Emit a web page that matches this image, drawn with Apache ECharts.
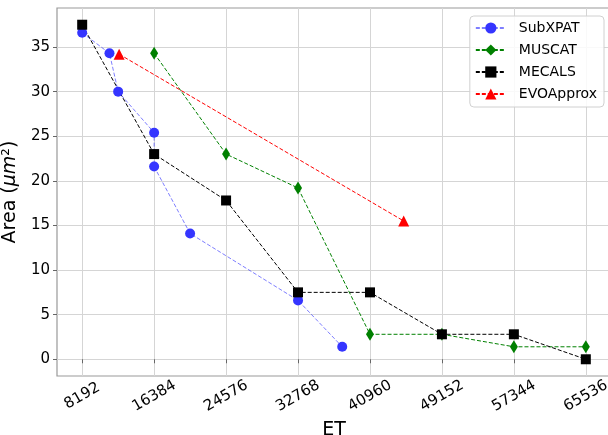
<!DOCTYPE html>
<html>
<head>
<meta charset="utf-8">
<script src="https://cdn.jsdelivr.net/npm/echarts@6/dist/echarts.min.js"></script>
<style>
html,body{margin:0;padding:0;background:#fff;}
#chart{width:608px;height:435px;}
</style>
</head>
<body>
<div id="chart"></div>
<script>
// ---- data ----
const xTicks = [8192, 16384, 24576, 32768, 40960, 49152, 57344, 65536];
const yTicks = [0, 5, 10, 15, 20, 25, 30, 35];

const subxpatX = [8192, 11300, 12288, 16384, 16384, 20480, 32768, 37800];
const subxpatY = [36.6, 34.3, 30.0, 25.4, 21.6, 14.1, 6.6, 1.4];

const muscatX = [16384, 24576, 32768, 40960, 49152, 57344, 65536];
const muscatY = [34.3, 23.0, 19.2, 2.8, 2.8, 1.4, 1.4];

const mecalsX = [8192, 16384, 24576, 32768, 40960, 49152, 57344, 65536];
const mecalsY = [37.5, 23.0, 17.8, 7.5, 7.5, 2.8, 2.8, 0];

const evoX = [12400, 44800];
const evoY = [34.2, 15.5];

const zip = (xs, ys) => xs.map((x, i) => [x, ys[i]]);

const FONT = 'DejaVu Sans';
const chart = echarts.init(document.getElementById('chart'), null, {renderer: 'canvas'});

function mkSeries(name, xs, ys, symbol, size, lineColor, markColor) {
  return {
    name: name,
    type: 'line',
    data: zip(xs, ys),
    symbol: symbol,
    symbolSize: size,
    showAllSymbol: true,
    lineStyle: {color: lineColor, width: 1, type: [4, 2]},
    itemStyle: {color: markColor},
    emphasis: {disabled: true},
    z: 3
  };
}

const option = {
  animation: false,
  textStyle: {fontFamily: FONT},
  grid: {
    left: 57, top: 8, width: 554, height: 368,
    outerBoundsMode: 'none',
    show: true, borderColor: '#999', borderWidth: 1.2, containLabel: false
  },
  legend: {
    orient: 'vertical',
    right: 4, top: 16,
    itemWidth: 30, itemHeight: 14, itemGap: 8,
    padding: [5, 7, 6, 5],
    backgroundColor: 'rgba(255,255,255,0.85)',
    borderColor: '#d0d0d0', borderWidth: 1, borderRadius: 4,
    textStyle: {fontFamily: FONT, fontSize: 14, color: '#000', padding: [0, 0, 0, 8]},
    data: ['SubXPAT', 'MUSCAT', 'MECALS', 'EVOApprox']
  },
  xAxis: {
    type: 'value',
    min: 5324.8, max: 68403.2,
    name: 'ET',
    nameLocation: 'middle',
    nameGap: 42,
    nameTextStyle: {fontFamily: FONT, fontSize: 19, color: '#000'},
    axisLine: {show: false},
    axisTick: {show: true, length: 4, lineStyle: {color: '#666'}, customValues: xTicks},
    axisLabel: {
      customValues: xTicks, rotate: 30, fontSize: 15, color: '#000', fontFamily: FONT,
      margin: 20, align: 'center', verticalAlign: 'middle',
      formatter: v => String(v)
    },
    splitLine: {show: true, lineStyle: {color: '#d5d5d5', width: 1}}
  },
  yAxis: {
    type: 'value',
    min: -1.875, max: 39.375,
    name: 'Area ({i|μm}²)',
    nameLocation: 'middle',
    nameRotate: 90,
    nameGap: 19,
    nameTextStyle: {
      fontFamily: FONT, fontSize: 19, color: '#000',
      rich: {i: {fontFamily: FONT, fontSize: 19, fontStyle: 'italic', color: '#000'}}
    },
    axisLine: {show: false},
    axisTick: {show: true, length: 4, lineStyle: {color: '#666'}, customValues: yTicks},
    axisLabel: {customValues: yTicks, fontSize: 15, color: '#000', fontFamily: FONT, margin: 7},
    splitLine: {show: true, lineStyle: {color: '#d5d5d5', width: 1}}
  },
  series: [
    mkSeries('SubXPAT', subxpatX, subxpatY, 'circle', 10, 'rgba(40,40,255,0.6)', '#3535ff'),
    mkSeries('MUSCAT', muscatX, muscatY, 'diamond', [8, 13], '#008000', '#008000'),
    mkSeries('MECALS', mecalsX, mecalsY, 'rect', 10, '#000000', '#000000'),
    mkSeries('EVOApprox', evoX, evoY, 'triangle', 11, '#ff0000', '#ff0000')
  ]
};
chart.setOption(option);
</script>
</body>
</html>
